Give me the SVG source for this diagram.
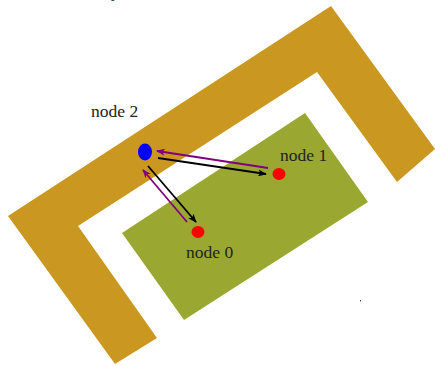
<svg xmlns="http://www.w3.org/2000/svg" width="435" height="365" viewBox="0 0 435 365">
<defs>
<style>
.lbl{font-family:"Liberation Serif","DejaVu Serif",serif;font-size:17.5px;fill:#222}
.blk{stroke:#000;stroke-width:1.8;fill:none}
.pur{stroke:#800080;stroke-width:1.8;fill:none}
</style>
<marker id="ab" viewBox="0 0 10 8" refX="9" refY="4" markerWidth="9" markerHeight="7" orient="auto" markerUnits="userSpaceOnUse"><path d="M0,0 L10,4 L0,8 L2.5,4 Z" fill="#000"/></marker>
<marker id="ap" viewBox="0 0 10 8" refX="9" refY="4" markerWidth="9" markerHeight="7" orient="auto" markerUnits="userSpaceOnUse"><path d="M0,0 L10,4 L0,8 L2.5,4 Z" fill="#800080"/></marker>
</defs>
<rect width="435" height="365" fill="#fff"/>
<g id="walls">
<polygon points="331,6 435,149 397,182 317,72 78,226 157,338 115,364 8,216" fill="#CA9721"/>
<polygon points="305,113 368,202 184,320 122,233" fill="#9AA832"/>
</g>
<text class="lbl" x="111" y="-3">y</text>
<rect x="360" y="300" width="1" height="1.5" fill="#444"/>
<g id="connectors">
<line class="blk" x1="158" y1="158" x2="266" y2="174" marker-end="url(#ab)"/>
<line class="pur" x1="268" y1="168" x2="157" y2="151" marker-end="url(#ap)"/>
<line class="blk" x1="148" y1="166" x2="196" y2="222" marker-end="url(#ab)"/>
<line class="pur" x1="187" y1="222" x2="143" y2="170" marker-end="url(#ap)"/>
</g>
<g id="node0">
<ellipse cx="198" cy="232" rx="6.5" ry="6" fill="#f00"/>
<text class="lbl" x="186" y="258">node 0</text>
</g>
<g id="node1">
<ellipse cx="279" cy="174" rx="6.5" ry="6" fill="#f00"/>
<text class="lbl" x="280" y="161">node 1</text>
</g>
<g id="node2">
<ellipse cx="145" cy="152" rx="7" ry="8.5" fill="#00f"/>
<text class="lbl" x="91" y="117">node 2</text>
</g>
</svg>
